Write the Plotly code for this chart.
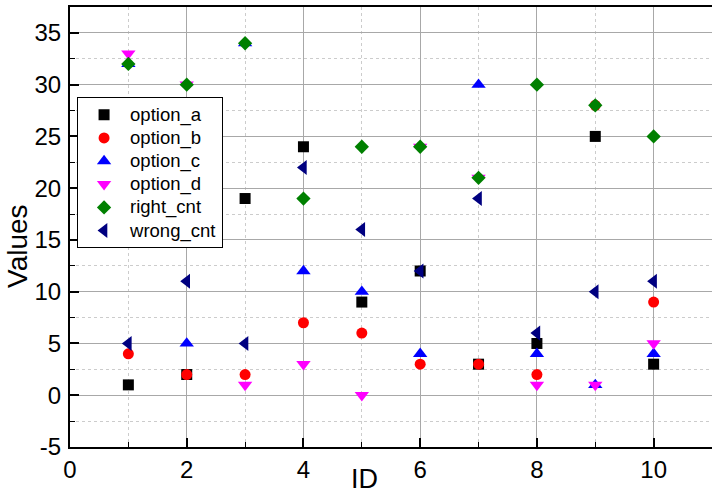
import plotly.graph_objects as go

ids = [1, 2, 3, 4, 5, 6, 7, 8, 9, 10]
option_a = [1, 2, 19, 24, 9, 12, 3, 5, 25, 3]
option_b = [4, 2, 2, 7, 6, 3, 3, 2, 28, 9]
option_c = [32, 5, 34, 12, 10, 4, 30, 4, 1, 4]
option_d = [33, 30, 1, 3, 0, 24, 21, 1, 1, 5]
right_cnt = [32, 30, 34, 19, 24, 24, 21, 30, 28, 25]
wrong_cnt = [5, 11, 5, 22, 16, 12, 19, 6, 10, 11]

x_ticks = [0, 2, 4, 6, 8, 10]
y_ticks = [-5, 0, 5, 10, 15, 20, 25, 30, 35]

series = [
    ("option_a", option_a, "square", "#000000", 11),
    ("option_b", option_b, "circle", "#ff0000", 11),
    ("option_c", option_c, "triangle-up", "#0000ff", 12.5),
    ("option_d", option_d, "triangle-down", "#ff00ff", 12.5),
    ("right_cnt", right_cnt, "diamond", "#008000", 11),
    ("wrong_cnt", wrong_cnt, "triangle-left", "#000080", 13),
]

fig = go.Figure()
for name, vals, sym, col, sz in series:
    fig.add_trace(go.Scatter(
        x=ids, y=vals, mode="markers",
        name=f'<span style="font-size:18.5px">{name}</span>',
        marker=dict(symbol=sym, size=sz, color=col, line=dict(width=0)),
    ))

font = "Liberation Sans, Arial, sans-serif"

fig.update_layout(
    width=712, height=492,
    margin=dict(l=70, r=0, t=7, b=45),
    paper_bgcolor="white", plot_bgcolor="white",
    font=dict(family=font, color="black"),
    showlegend=True,
    legend=dict(
        x=0.011, y=0.795, xanchor="left", yanchor="top",
        bgcolor="white", bordercolor="black", borderwidth=1,
        font=dict(size=15.5, family=font, color="black"),
        tracegroupgap=0, itemwidth=42,
    ),
)

fig.update_xaxes(
    range=[0, 11], tickvals=x_ticks, ticktext=[str(v) for v in x_ticks],
    showline=True, linecolor="black", linewidth=2, mirror=True,
    ticks="inside", ticklen=9, tickwidth=1.5, tickcolor="black",
    tickfont=dict(size=24, family=font, color="black"),
    showgrid=True, gridcolor="#a8a8a8", gridwidth=1,
    zeroline=False,
    minor=dict(dtick=1, tick0=0, ticks="inside", ticklen=5, tickwidth=1.2, tickcolor="black",
               showgrid=True, gridcolor="#cccccc", griddash="dot", gridwidth=1),
)
fig.update_yaxes(
    range=[-5, 37.5], tickvals=y_ticks, ticktext=[str(v) for v in y_ticks],
    showline=True, linecolor="black", linewidth=2, mirror=False,
    ticks="inside", ticklen=9, tickwidth=1.5, tickcolor="black",
    tickfont=dict(size=24, family=font, color="black"),
    ticklabelstandoff=2,
    showgrid=True, gridcolor="#a8a8a8", gridwidth=1,
    zeroline=False,
    minor=dict(dtick=2.5, tick0=0, ticks="inside", ticklen=5, tickwidth=1.2, tickcolor="black",
               showgrid=True, gridcolor="#cccccc", griddash="dot", gridwidth=1),
)

fig.add_annotation(text="ID", xref="paper", yref="paper", x=0.4595, y=-0.072,
                   xanchor="center", yanchor="middle", showarrow=False,
                   font=dict(size=27, family=font, color="black"))
fig.add_annotation(text="Values", xref="paper", yref="paper", x=-0.081, y=0.457,
                   xanchor="center", yanchor="middle", showarrow=False, textangle=-90,
                   font=dict(size=28, family=font, color="black"))

fig.write_html("out.html")
